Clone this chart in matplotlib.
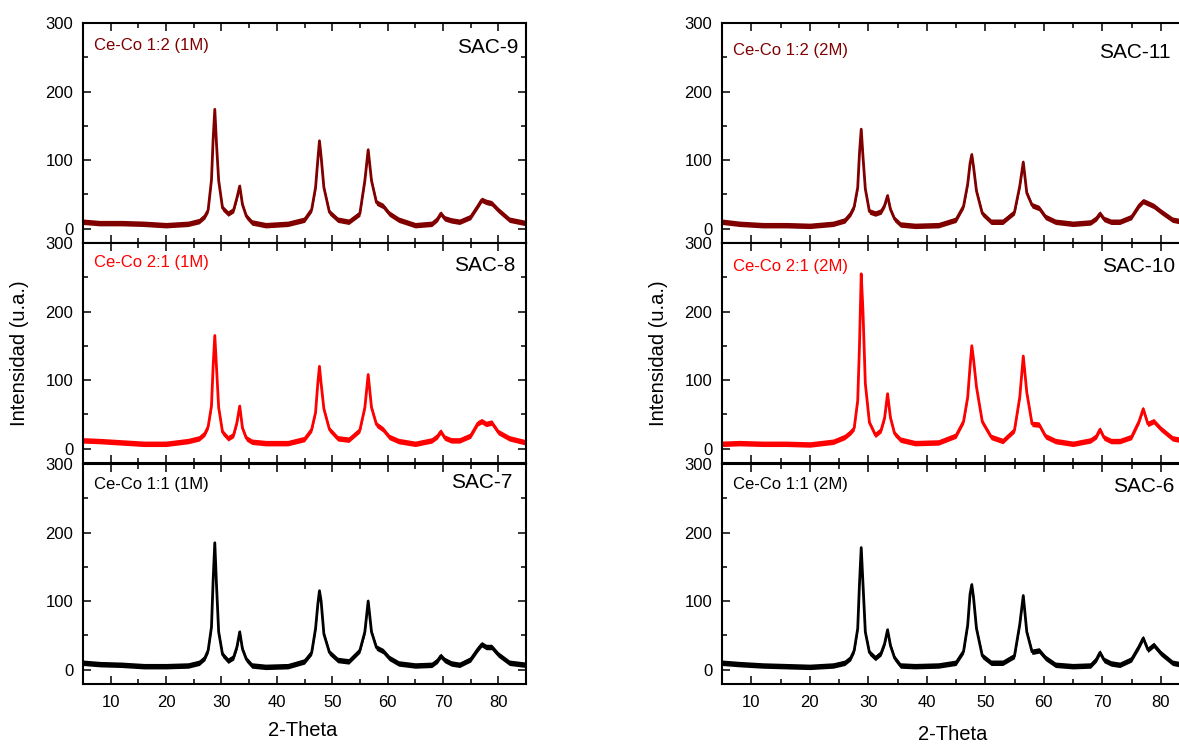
import matplotlib
matplotlib.use("Agg")
import matplotlib.pyplot as plt
from matplotlib.ticker import MultipleLocator
import numpy as np

plt.rcParams['font.family'] = ['Liberation Sans', 'DejaVu Sans']

# 2-Theta sample positions (denser around the peaks)
two_theta = [5, 8, 12, 16, 20, 24, 26, 27, 27.6, 28.2, 28.5, 28.8, 29.1, 29.5, 30.2,
             31.2, 32.2, 32.8, 33.3, 33.8, 34.5, 35.5, 38, 42, 45, 46.3, 47.0, 47.4,
             47.7, 48.0, 48.5, 49.5, 51, 53, 55, 55.9, 56.5, 57.1, 58.0, 59.2, 60.3,
             62, 65, 68, 69.0, 69.6, 70.3, 71.5, 73, 75, 76.3, 77.0, 77.8, 78.8, 80,
             82, 85]

# 1M samples (left column)
sac9 = [10, 8, 8, 7, 5, 7, 11, 18, 27, 71, 130, 174, 125, 70, 30,
        22, 27, 45, 62, 35, 18, 9, 5, 7, 13, 28, 60, 100,
        128, 105, 60, 24, 13, 10, 22, 70, 115, 70, 38, 33, 22,
        13, 5, 7, 14, 22, 15, 12, 10, 17, 33, 42, 39, 37, 27,
        13, 8]
sac8 = [12, 11, 9, 7, 7, 11, 15, 22, 32, 62, 120, 165, 120, 60, 24,
        15, 20, 38, 62, 30, 15, 10, 8, 8, 14, 28, 53, 95,
        120, 95, 58, 28, 15, 13, 27, 60, 108, 60, 35, 28, 17,
        11, 7, 12, 18, 25, 16, 12, 12, 19, 37, 40, 36, 38, 24,
        15, 9]
sac7 = [10, 8, 7, 5, 5, 6, 10, 17, 28, 62, 130, 185, 125, 55, 22,
        13, 18, 33, 55, 30, 15, 6, 4, 5, 12, 25, 60, 95,
        115, 100, 52, 25, 14, 12, 28, 55, 100, 55, 32, 27, 17,
        9, 6, 7, 13, 20, 14, 9, 7, 15, 30, 37, 33, 33, 22,
        10, 7]

# 2M samples (right column)
sac11 = [10, 7, 5, 5, 4, 7, 12, 22, 32, 60, 110, 145, 105, 58, 25,
         22, 25, 34, 48, 28, 14, 6, 4, 5, 13, 33, 65, 95,
         108, 90, 55, 22, 10, 10, 24, 62, 97, 52, 34, 30, 17,
         10, 7, 9, 15, 22, 14, 10, 10, 17, 34, 40, 37, 33, 25,
         13, 8]
sac10 = [7, 8, 7, 7, 6, 10, 17, 24, 30, 70, 150, 255, 200, 95, 38,
         20, 27, 45, 80, 45, 22, 13, 8, 9, 19, 40, 75, 120,
         150, 130, 90, 39, 17, 11, 27, 75, 135, 82, 36, 35, 18,
         11, 7, 12, 18, 28, 16, 11, 11, 17, 40, 58, 36, 40, 29,
         15, 10]
sac6 = [10, 8, 6, 5, 4, 6, 10, 17, 28, 60, 125, 178, 125, 55, 25,
        17, 24, 38, 58, 35, 17, 6, 5, 6, 10, 27, 65, 110,
        124, 105, 60, 20, 10, 10, 20, 66, 108, 55, 26, 28, 17,
        7, 5, 6, 15, 25, 14, 9, 7, 15, 34, 46, 29, 36, 24,
        10, 5]

left_series = [sac9, sac8, sac7]
right_series = [sac11, sac10, sac6]
left_names = ['SAC-9', 'SAC-8', 'SAC-7']
right_names = ['SAC-11', 'SAC-10', 'SAC-6']
left_labels = ['Ce-Co 1:2 (1M)', 'Ce-Co 2:1 (1M)', 'Ce-Co 1:1 (1M)']
right_labels = ['Ce-Co 1:2 (2M)', 'Ce-Co 2:1 (2M)', 'Ce-Co 1:1 (2M)']
colores = ['#800000', '#ff0000', '#000000']

W, H = 1179, 744
fig = plt.figure(figsize=(W / 100, H / 100), dpi=100)

panel_tops = [23, 243, 464]
panel_h = 220
noise = 4  # media anchura de la banda de ruido (estilo)


def px_axes(left, top, width, height):
    return fig.add_axes([left / W, (H - top - height) / H, width / W, height / H])


def style_axes(ax, bottom):
    ax.set_xlim(5, 85)
    ax.set_ylim(-21, 300)
    ax.xaxis.set_major_locator(MultipleLocator(10))
    ax.xaxis.set_minor_locator(MultipleLocator(5))
    ax.yaxis.set_major_locator(MultipleLocator(100))
    ax.yaxis.set_minor_locator(MultipleLocator(50))
    ax.tick_params(which='both', direction='in', top=True, right=True, width=1.1,
                   labelsize=12, labelbottom=bottom)
    ax.tick_params(which='major', length=6)
    ax.tick_params(which='minor', length=3.5)
    ax.tick_params(axis='y', pad=7)
    ax.tick_params(axis='x', pad=8)
    for s in ax.spines.values():
        s.set_linewidth(1.5)


def draw_column(left, width, series, names, labels, lab_dy, name_right, name_dy):
    x = np.array(two_theta)
    for i in range(3):
        ax = px_axes(left, panel_tops[i], width, panel_h)
        y = np.array(series[i])
        ax.fill_between(x, y - noise, y + noise, color=colores[i], lw=0)
        ax.plot(x, y, color=colores[i], lw=2.0)
        style_axes(ax, i == 2)
        ax.text(11 / width, 1 - lab_dy[i] / panel_h, labels[i], transform=ax.transAxes,
                color=colores[i], fontsize=12, ha='left', va='center')
        ax.text((name_right[i] - left) / width, 1 - name_dy[i] / panel_h, names[i],
                transform=ax.transAxes, color='black', fontsize=15, ha='right', va='center')


draw_column(83, 443, left_series, left_names, left_labels,
            [22, 19, 20], [518, 515, 512], [24.5, 22.5, 18.5])
draw_column(722, 468, right_series, right_names, right_labels,
            [27.5, 23, 20], [1171, 1175, 1174], [29.5, 23.5, 22.5])

fig.text(20 / W, 1 - 353 / H, 'Intensidad (u.a.)', rotation=90, fontsize=14.5,
         ha='center', va='center')
fig.text(658 / W, 1 - 353 / H, 'Intensidad (u.a.)', rotation=90, fontsize=14.5,
         ha='center', va='center')
fig.text(303 / W, 1 - 731 / H, '2-Theta', fontsize=14.5, ha='center', va='center')
fig.text(953 / W, 1 - 735 / H, '2-Theta', fontsize=14.5, ha='center', va='center')

fig.savefig('out.png', dpi=100)
